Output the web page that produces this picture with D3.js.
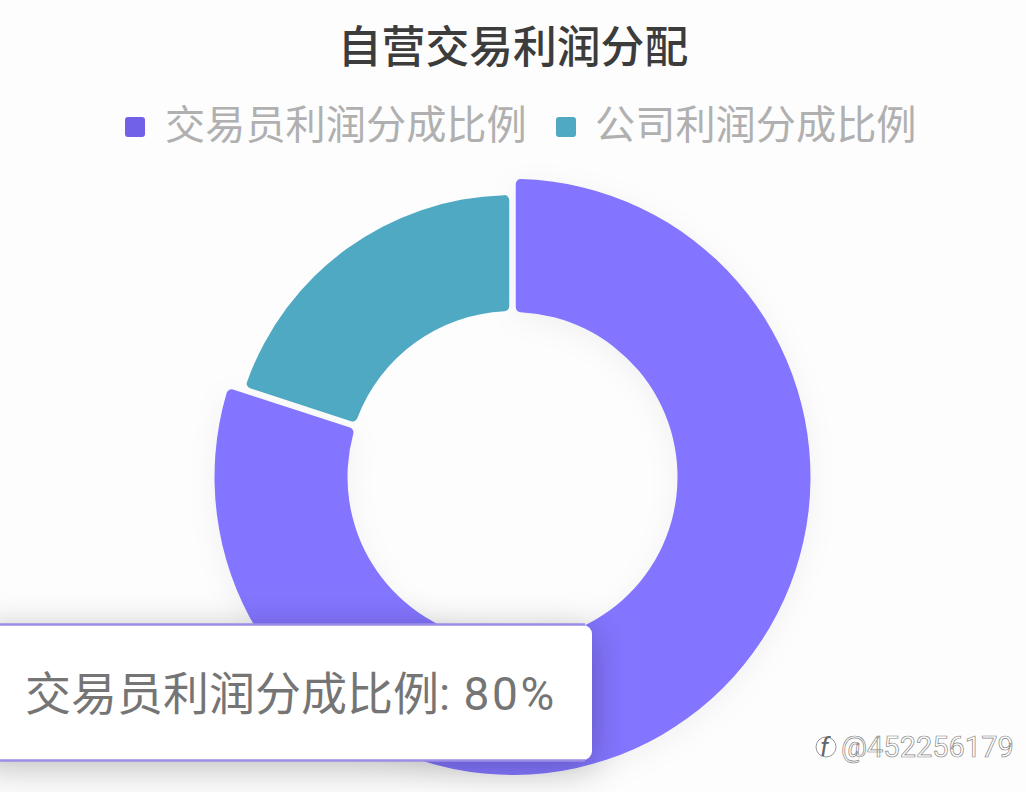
<!DOCTYPE html>
<html><head><meta charset="utf-8">
<script src="https://cdn.jsdelivr.net/npm/d3@7"></script>
<style>html,body{margin:0;padding:0;background:#fdfdfd;overflow:hidden}svg{display:block}text{font-family:Roboto,"Noto Sans CJK SC","Noto Sans",sans-serif}</style>
</head><body><svg id="c" width="1026" height="792"></svg>
<script>
const chartTitle = "自营交易利润分配";
const categories = ["交易员利润分成比例", "公司利润分成比例"];
const values = [80, 20];
const colors = ["#8375ff", "#4fa9c3"];
const legendColors = ["#7061e8", "#4fa9c3"];
const tooltipCategory = categories[0];
const tooltipValue = values[0] + "%";
const watermark = "@452256179";

const svg = d3.select("#c");
const defs = svg.append("defs");
const f1 = defs.append("filter").attr("id","sh").attr("x","-20%").attr("y","-20%").attr("width","140%").attr("height","150%");
f1.append("feDropShadow").attr("dx",0).attr("dy",6).attr("stdDeviation",14).attr("flood-color","#000").attr("flood-opacity",0.05);
const f2 = defs.append("filter").attr("id","tt").attr("x","-20%").attr("y","-40%").attr("width","140%").attr("height","180%");
f2.append("feDropShadow").attr("dx",0).attr("dy",6).attr("stdDeviation",18).attr("flood-color","#000").attr("flood-opacity",0.28);

svg.append("text").attr("x",513).attr("y",63).attr("text-anchor","middle")
  .attr("font-size",43.8).attr("font-weight",500).attr("fill","#3c3c3c").text(chartTitle);

// legend
const legendX = [125, 556], legendTextX = [165, 595];
const lg = svg.append("g").selectAll("g").data(categories).join("g");
lg.append("rect").attr("x",(d,i)=>legendX[i]).attr("y",117).attr("width",20).attr("height",20).attr("rx",3)
  .attr("fill",(d,i)=>legendColors[i]);
lg.append("text").attr("x",(d,i)=>legendTextX[i]).attr("y",139).attr("font-size",40.2).attr("fill","#b0b0b0").text(d=>d);

// donut
const cx = 512.5, cy = 477;
const pie = d3.pie().sort(null).value(d=>d)(values);
const radii = [[165,298],[166,282]];
const g = svg.append("g").attr("transform",`translate(${cx},${cy})`);
g.selectAll("path").data(pie).join("path")
  .attr("d",(d,i)=>d3.arc().innerRadius(radii[i][0]).outerRadius(radii[i][1])
     .cornerRadius(5).padAngle(0.024).padRadius(270)(d))
  .attr("fill",(d,i)=>colors[i])
  .attr("filter",(d,i)=>i===0?"url(#sh)":null);

// tooltip: purple rule only along its top and bottom edges
svg.append("rect").attr("x",-20).attr("y",625).attr("width",612).attr("height",135).attr("rx",9)
  .attr("fill","#fff").attr("filter","url(#tt)");
svg.append("g").selectAll("line").data([624.5,760.5]).join("line")
  .attr("x1",0).attr("x2",585).attr("y1",d=>d).attr("y2",d=>d)
  .attr("stroke","#9a8ee6").attr("stroke-width",2.5);
const tip = svg.append("text").attr("x",25).attr("y",710).attr("font-size",46).attr("fill","#757575");
tip.append("tspan").text(tooltipCategory);
tip.append("tspan").text(": ");
tip.append("tspan").attr("dx",2).attr("letter-spacing",2.6).text(tooltipValue);

// watermark
svg.append("circle").attr("cx",826).attr("cy",747).attr("r",10).attr("fill","#fff").attr("stroke","#999").attr("stroke-width",1);
svg.append("text").attr("x",820).attr("y",756).attr("font-size",26).attr("font-style","italic").attr("fill","#666").text("f");
svg.append("text").attr("x",841).attr("y",757).attr("font-size",29).attr("fill","#fff")
  .attr("stroke","#888").attr("stroke-width",0.7).text(watermark);
</script></body></html>
